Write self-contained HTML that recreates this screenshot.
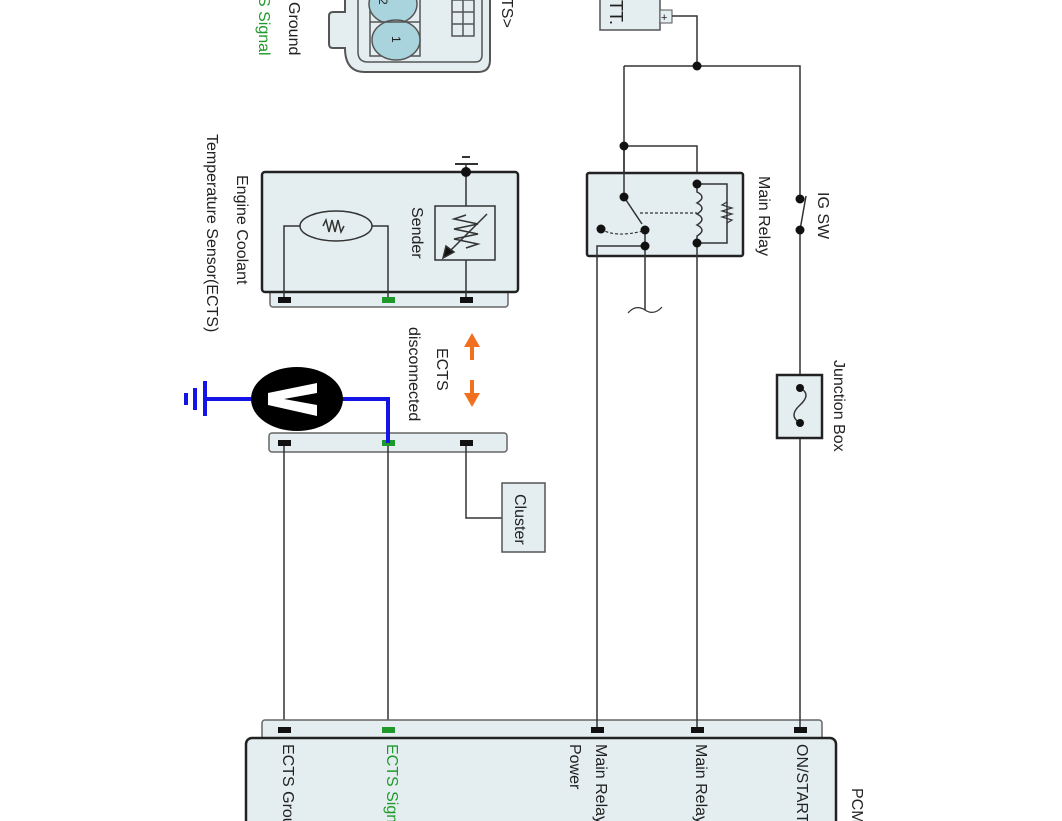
<!DOCTYPE html>
<html><head><meta charset="utf-8"><style>
html,body{margin:0;padding:0;background:#fff;}
svg{display:block;font-family:"Liberation Sans",sans-serif;}
</style></head><body>
<svg width="1062" height="821" viewBox="0 0 1062 821" xmlns="http://www.w3.org/2000/svg">
<g fill="none" stroke="#333" stroke-width="1.5">
<path d="M345,0 V12 H333 Q329,12 329,16 V44 Q329,48 333,48 H345 Q345,72 365,72 H478 Q490,72 490,60 V0" fill="#e4eef0" stroke="#555" stroke-width="2"/>
<path d="M358,0 V52 Q358,62 368,62 H475 Q482,62 482,55 V0" stroke="#555"/>
<rect x="370" y="-2" width="50" height="58" fill="#e4eef0" stroke="#555"/>
<ellipse cx="393" cy="4" rx="24" ry="20" fill="#a9d4dd" stroke="#555"/>
<ellipse cx="396" cy="40" rx="24" ry="20" fill="#a9d4dd" stroke="#555"/>
<line x1="370" y1="22" x2="420" y2="22" stroke="#555"/>
<rect x="452" y="0" width="22" height="36" fill="#e4eef0" stroke="#555"/>
<line x1="452" y1="12" x2="474" y2="12" stroke="#555"/>
<line x1="452" y1="24" x2="474" y2="24" stroke="#555"/>
<line x1="463" y1="0" x2="463" y2="36" stroke="#555"/>

<rect x="270" y="290" width="238" height="17" rx="3" fill="#e4eef0" stroke="#666"/>
<rect x="262" y="172" width="256" height="120" rx="3" fill="#e4eef0" stroke="#222" stroke-width="2.5"/>
<line x1="462" y1="157" x2="470" y2="157" stroke-width="2"/>
<line x1="455" y1="164" x2="478" y2="164" stroke-width="2"/>
<line x1="466" y1="164" x2="466" y2="300"/>
<rect x="435" y="206" width="60" height="54" fill="#e4eef0"/>
<path d="M466,215 L454,219 L478,224 L454,229 L478,234 L454,239 L478,244 L466,248" />
<line x1="487" y1="214" x2="449" y2="252"/>
<polygon points="443,258 446,246 454,252" fill="#111"/>
<path d="M284,300 V226 H300 M372,226 H388 V300"/>
<ellipse cx="336" cy="226" rx="36" ry="15" fill="#e4eef0"/>
<path d="M323,226 l3,-6 l3,12 l3,-12 l3,12 l3,-12 l3,12 l3,-6" />

<rect x="269" y="433" width="238" height="19" rx="3" fill="#e4eef0" stroke="#666"/>
<path d="M284,443 V730 M388,443 V730 M466,443 V518 H502"/>
<rect x="502" y="483" width="43" height="69" fill="#e4eef0" stroke="#555"/>

<rect x="262" y="720" width="560" height="24" rx="3" fill="#e4eef0" stroke="#666"/>
<rect x="246" y="738" width="590" height="110" rx="6" fill="#e4eef0" stroke="#222" stroke-width="2.5"/>

<rect x="600" y="-4" width="60" height="34" fill="#e4eef0" stroke="#555"/>
<rect x="660" y="10" width="12" height="13" fill="#e4eef0" stroke="#555" stroke-width="1"/>
<path d="M672,16 H697 V66 M624,66 H800 V198 M624,66 V196 M624,146 H697 V184"/>
<line x1="800" y1="230" x2="800" y2="730"/>
<line x1="800" y1="230" x2="806" y2="196"/>
<rect x="587" y="173" width="156" height="83" rx="2" fill="#e4eef0" stroke="#222" stroke-width="2.5"/>
<line x1="624" y1="146" x2="624" y2="197"/>
<line x1="624" y1="197" x2="642" y2="224"/>
<path d="M697,184 H727 V243 H697 M697,184 V192 Q707,197 697,203 Q707,208 697,214 Q707,219 697,225 Q707,230 697,236 V243" />
<path d="M727,202 l-5,3 l10,3 l-10,3 l10,3 l-10,3 l10,3 l-5,3" stroke-width="1.2"/>
<line x1="640" y1="213" x2="697" y2="213" stroke-dasharray="3,2" stroke-width="1.2"/>
<path d="M601,229 Q615,238 643,231" stroke-dasharray="3,2" stroke-width="1.2"/>
<path d="M597,730 V246 H645 M645,229 V310 M697,243 V730"/>
<path d="M628,313 Q636,304 645,310 Q654,316 662,307" stroke-width="1.2"/>
<rect x="777" y="375" width="45" height="63" fill="#e4eef0" stroke="#222" stroke-width="2.5"/>
<path d="M800,388 Q812,394 800,405 Q788,416 800,423" />
</g>

<g fill="#111">
<circle cx="466" cy="172" r="5"/>
<circle cx="697" cy="66" r="4.5"/><circle cx="624" cy="146" r="4.5"/>
<circle cx="624" cy="197" r="4.5"/><circle cx="645" cy="230" r="4.5"/><circle cx="645" cy="246" r="4.5"/>
<circle cx="601" cy="229" r="4.5"/><circle cx="697" cy="184" r="4.5"/><circle cx="697" cy="243" r="4.5"/>
<circle cx="800" cy="199" r="4.5"/><circle cx="800" cy="230" r="4.5"/>
<circle cx="800" cy="388" r="4"/><circle cx="800" cy="423" r="4"/>
<rect x="278" y="297" width="13" height="6"/><rect x="460" y="297" width="13" height="6"/>
<rect x="278" y="440" width="13" height="6"/><rect x="460" y="440" width="13" height="6"/>
<rect x="278" y="727" width="13" height="6"/><rect x="591" y="727" width="13" height="6"/>
<rect x="691" y="727" width="13" height="6"/><rect x="794" y="727" width="13" height="6"/>
</g>
<g fill="#1f9a2a">
<rect x="382" y="297" width="13" height="6"/><rect x="382" y="440" width="13" height="6"/><rect x="382" y="727" width="13" height="6"/>
</g>

<g stroke="#1414e6" stroke-width="4" fill="none">
<path d="M342,399 H388 V443 M252,399 H205"/>
<line x1="205" y1="381" x2="205" y2="416"/>
<line x1="195" y1="388" x2="195" y2="410"/>
<line x1="186" y1="393" x2="186" y2="405"/>
</g>
<ellipse cx="297" cy="399" rx="46" ry="32" fill="#000"/>
<polygon points="317,383 317,393 284,399 317,405 317,416 268,405 268,393" fill="#fff"/>

<g fill="#f07020" stroke="#f07020" stroke-width="4">
<line x1="472" y1="360" x2="472" y2="345"/>
<polygon points="464,347 480,347 472,333" stroke="none"/>
<line x1="472" y1="380" x2="472" y2="395"/>
<polygon points="464,393 480,393 472,407" stroke="none"/>
</g>

<g font-size="16" fill="#222">
<text transform="translate(283,744) rotate(90)">ECTS Ground</text>
<text transform="translate(387,744) rotate(90)" fill="#1f9a2a">ECTS Signal</text>
<text transform="translate(596,744) rotate(90)">Main Relay</text>
<text transform="translate(570,744) rotate(90)">Power</text>
<text transform="translate(696,744) rotate(90)">Main Relay</text>
<text transform="translate(797,744) rotate(90)">ON/START</text>
<text transform="translate(852,788) rotate(90)">PCM</text>
<text transform="translate(437,348) rotate(90)">ECTS</text>
<text transform="translate(409,327) rotate(90)">disconnected</text>
<text transform="translate(237,175) rotate(90)">Engine Coolant</text>
<text transform="translate(207,134) rotate(90)">Temperature Sensor(ECTS)</text>
<text transform="translate(412,207) rotate(90)">Sender</text>
<text transform="translate(289,2) rotate(90)">Ground</text>
<text transform="translate(259,-4) rotate(90)" fill="#1f9a2a">S Signal</text>
<text transform="translate(502,-2) rotate(90)">TS&gt;</text>
<text transform="translate(515,494) rotate(90)">Cluster</text>
<text transform="translate(759,176) rotate(90)">Main Relay</text>
<text transform="translate(818,192) rotate(90)">IG SW</text>
<text transform="translate(834,360) rotate(90)">Junction Box</text>
<text transform="translate(610,0) rotate(90)" font-size="18">TT.</text>
<text x="661" y="21" font-size="11">+</text>
<text transform="translate(379,-2) rotate(90)" font-size="12">2</text>
<text transform="translate(392,36) rotate(90)" font-size="12">1</text>
</g>
</svg>
</body></html>
